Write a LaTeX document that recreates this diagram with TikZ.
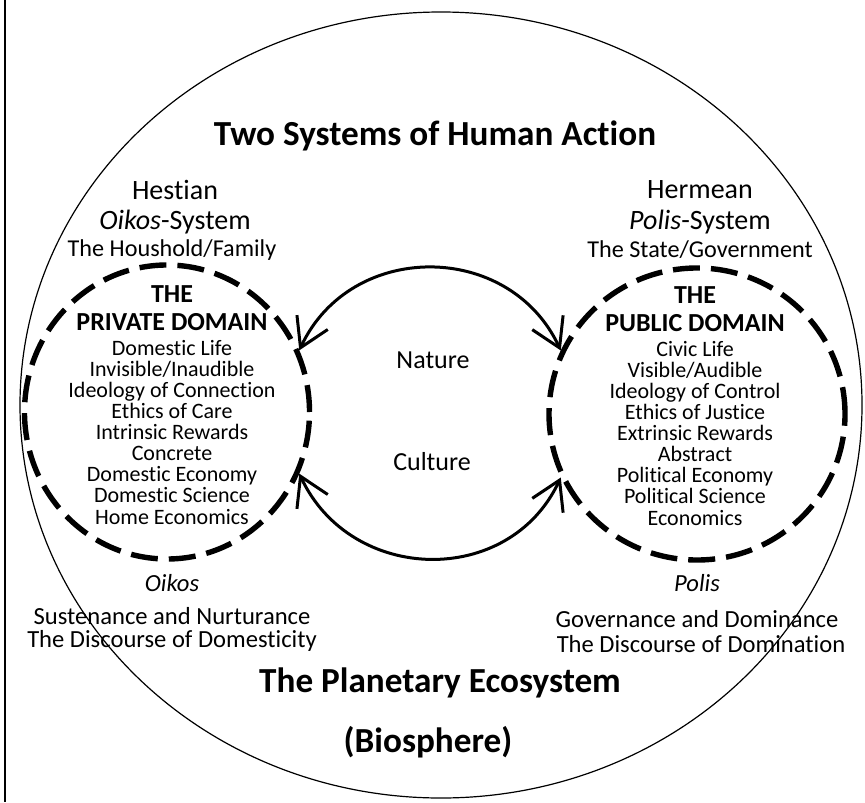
\documentclass[tikz,border=0pt]{standalone}
\usepackage{fontspec}
\setmainfont{Carlito}[Ligatures={NoCommon}]
\usetikzlibrary{shapes.geometric,arrows.meta,positioning}
\newcommand{\realmfont}{\fontsize{13}{10.56}\selectfont\bfseries}

\begin{document}
\begin{tikzpicture}[x=0.5pt, y=0.5pt,
    realm/.style={ellipse, draw, line width=2.7pt, dash pattern=on 13.5pt off 5.5pt, inner sep=0pt},
    exchange/.style={{Straight Barb[length=14pt,width=17pt]}-{Straight Barb[length=14pt,width=17pt]}, line width=1.5pt, looseness=1.19},
    heading/.style={font=\fontsize{17.6}{20}\selectfont\bfseries},
    system/.style={font=\fontsize{14}{16}\selectfont},
    unit/.style={font=\fontsize{12.1}{14}\selectfont},
    listing/.style={font=\fontsize{11}{10.56}\selectfont, align=center},
    pole/.style={font=\fontsize{13}{15}\selectfont},
    discourse/.style={font=\fontsize{12.3}{14}\selectfont}
]
\useasboundingbox (0,0) rectangle (865,-802);

% page rule on the left
\draw[line width=0.7pt] (5,0) -- (5,-802);

% the planetary ecosystem
\node[ellipse, draw, line width=0.6pt, minimum width=421pt, minimum height=393pt, inner sep=0pt] (planet) at (441,-405) {};
\node[heading] (title) at (435,-136) {Two Systems of Human Action};

% the two systems
\node[system] (hestian) at (175,-190) {Hestian};
\node[system] (oikossys) at (175,-222) {\textit{Oikos}-System};
\node[unit] (household) at (172,-250) {The Houshold/Family};
\node[system] (hermean) at (700,-190) {Hermean};
\node[system] (polissys) at (700,-222) {\textit{Polis}-System};
\node[unit] (state) at (700,-250) {The State/Government};

% the two domains
\node[realm, minimum width=142.5pt, minimum height=147pt] (private) at (167,-412) {};
\node[realm, minimum width=148pt, minimum height=146pt] (public) at (697,-414) {};

\node[listing] (privlist) at (172,-405) {{\realmfont THE}\\[3.5pt]{\realmfont PRIVATE DOMAIN}\\[1.6pt]Domestic Life\\Invisible/Inaudible\\Ideology of Connection\\Ethics of Care\\Intrinsic Rewards\\Concrete\\Domestic Economy\\Domestic Science\\Home Economics};
\node[listing] (publist) at (695,-406) {{\realmfont THE}\\[3.5pt]{\realmfont PUBLIC DOMAIN}\\[1.6pt]Civic Life\\Visible/Audible\\Ideology of Control\\Ethics of Justice\\Extrinsic Rewards\\Abstract\\Political Economy\\Political Science\\Economics};

% nature and culture
\node[pole] (nature) at (433,-360) {Nature};
\node[pole] (culture) at (432,-462) {Culture};
\draw[exchange] (private.25) to[out=65, in=115] (public.155);
\draw[exchange] (private.-25) to[out=-65, in=-115] (public.-155);

% below the domains
\node[discourse] (oikos) at (172,-583) {\textit{Oikos}};
\node[discourse] (sustenance) at (172,-616) {Sustenance and Nurturance};
\node[discourse] (domesticity) at (172,-641) {The Discourse of Domesticity};
\node[discourse] (polis) at (697,-583) {\textit{Polis}};
\node[discourse] (governance) at (697,-619) {Governance and Dominance};
\node[discourse] (domination) at (701,-644) {The Discourse of Domination};

\node[heading] (planetary) at (440,-683) {The Planetary Ecosystem};
\node[heading] (biosphere) at (428,-742) {(Biosphere)};

\end{tikzpicture}
\end{document}
